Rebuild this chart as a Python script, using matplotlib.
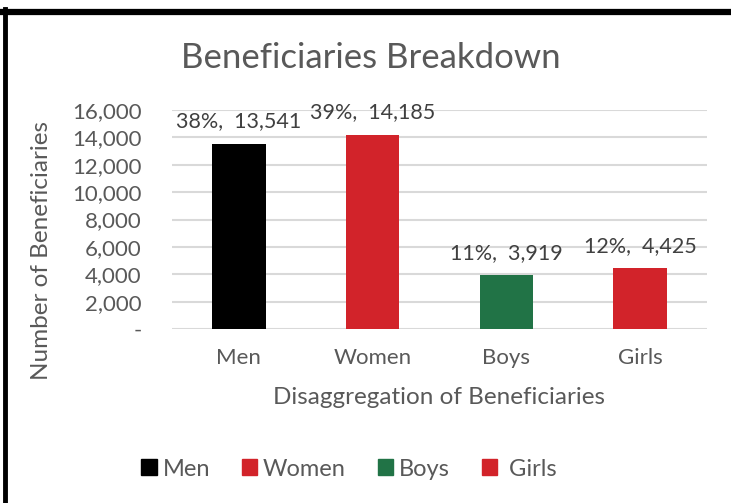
import matplotlib.pyplot as plt
from matplotlib.patches import Rectangle
from matplotlib.ticker import FuncFormatter

categories = ['Men', 'Women', 'Boys', 'Girls']
beneficiaries = [13541, 14185, 3919, 4425]
shares = ['38%', '39%', '11%', '12%']
bar_colors = ['#000000', '#D2232A', '#217346', '#D2232A']
y_ticks = [0, 2000, 4000, 6000, 8000, 10000, 12000, 14000, 16000]

plt.rcParams['font.family'] = ['Lato', 'DejaVu Sans']
text_grey = '#595959'


def main():
    fig = plt.figure(figsize=(7.31, 5.03), dpi=100)
    ax = fig.add_axes([172 / 731, 1 - 329 / 503, (707 - 172) / 731, (329 - 110) / 503])

    x = range(len(categories))
    bars = ax.bar(x, beneficiaries, width=0.4, color=bar_colors, zorder=3)

    # data labels: "pct,  value"
    for rect, pct, val in zip(bars, shares, beneficiaries):
        ax.annotate(f'{pct},  {val:,}', (rect.get_x() + rect.get_width() / 2, rect.get_height()),
                    xytext=(0, 9), textcoords='offset points', ha='center', va='bottom',
                    fontsize=15.5, color='#404040')

    ax.set_xlim(-0.5, 3.5)
    ax.set_ylim(0, 16000)
    ax.set_yticks(y_ticks)
    ax.yaxis.set_major_formatter(FuncFormatter(lambda v, p: '-' if v == 0 else f'{int(v):,}'))
    ax.set_xticks(list(x))
    ax.set_xticklabels(categories)
    ax.tick_params(length=0, labelsize=16, colors=text_grey)
    ax.tick_params(axis='y', pad=22)
    ax.tick_params(axis='x', pad=14)
    ax.grid(axis='y', color='#D9D9D9', linewidth=1.5, zorder=0)
    for s in ax.spines.values():
        s.set_visible(False)

    ax.set_xlabel('Disaggregation of Beneficiaries', fontsize=17.5, color=text_grey, labelpad=13)
    fig.text(42 / 731, 1 - 250 / 503, 'Number of Beneficiaries', rotation=90, fontsize=17.5,
             color=text_grey, ha='center', va='center')
    fig.text(371 / 731, 1 - 58 / 503, 'Beneficiaries Breakdown', fontsize=25, color=text_grey,
             ha='center', va='center')

    handles = [Rectangle((0, 0), 1, 1, color=c) for c in bar_colors]
    labels = ['Men', 'Women', 'Boys', ' Girls']
    leg = fig.legend(handles, labels, loc='center', bbox_to_anchor=(349 / 731, 1 - 469 / 503),
                     ncol=4, frameon=False, fontsize=17, handlelength=0.65, handleheight=0.65,
                     handletextpad=0.25, columnspacing=1.35)
    for t in leg.get_texts():
        t.set_color(text_grey)

    # outer frame (only top and left visible in the crop)
    fig.add_artist(plt.Line2D([5 / 731, 5 / 731], [0, 1 - 9 / 503], transform=fig.transFigure,
                              color='black', linewidth=3.5))
    fig.add_artist(plt.Line2D([3 / 731, 1], [1 - 12 / 503, 1 - 12 / 503], transform=fig.transFigure,
                              color='black', linewidth=4.5))

    fig.savefig('out.png', dpi=100)


if __name__ == '__main__':
    main()
